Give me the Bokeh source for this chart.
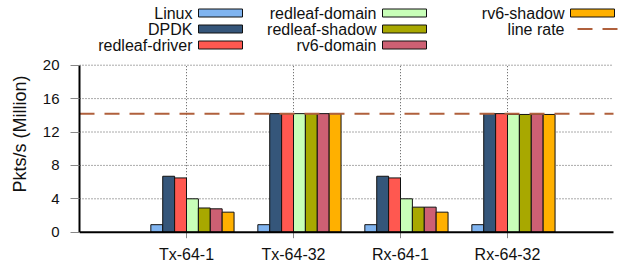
from bokeh.plotting import figure
from bokeh.models import Range1d, FixedTicker
from bokeh.embed import file_html
from bokeh.resources import INLINE
from bokeh.core.properties import value

# ---------------- data ----------------
categories = ["Tx-64-1", "Tx-64-32", "Rx-64-1", "Rx-64-32"]
series_names = ["Linux", "DPDK", "redleaf-driver", "redleaf-domain",
                "redleaf-shadow", "rv6-domain", "rv6-shadow"]
linux = [0.9, 0.9, 0.9, 0.9]
dpdk = [6.7, 14.2, 6.7, 14.2]
redleaf_driver = [6.5, 14.2, 6.5, 14.2]
redleaf_domain = [4.0, 14.2, 4.0, 14.1]
redleaf_shadow = [2.9, 14.2, 3.0, 14.1]
rv6_domain = [2.8, 14.2, 3.0, 14.15]
rv6_shadow = [2.4, 14.2, 2.4, 14.1]
line_rate = 14.2
line_rate_label = "line rate"
y_ticks = [0, 4, 8, 12, 16, 20]
y_label = "Pkts/s (Million)"

series_values = [linux, dpdk, redleaf_driver, redleaf_domain,
                 redleaf_shadow, rv6_domain, rv6_shadow]
colors = ["#80b4f0", "#35567a", "#ff5850", "#c8ffb8",
          "#a8a800", "#cd6073", "#ffb000"]
line_color = "#b0603c"
text_color = "#111111"
tick_color = "#888888"
grid_color = "#555555"

FONT = "Liberation Sans"
FS = "16px"

# ---------------- layout (page pixels; page has no margin) ----------------
W, H = 618, 267
BL = 79
frame_left_px = BL
frame_top_px = 0
frame_bottom_px = H
frame_right_px = 613                   # end of the x axis
frame_w = W - BL
zero_px = 231.7                        # page y of value 0
px_per_y = 167.0 / y_ticks[-1]
px_per_x = 107.0

x_lo = 0.0
x_hi = frame_w / px_per_x
y_lo = -(frame_bottom_px - zero_px) / px_per_y
y_hi = (zero_px - frame_top_px) / px_per_y
y_max = y_ticks[-1]


def dx(px):  # page px -> data x
    return x_lo + (px - frame_left_px) / px_per_x


def dy(py):  # page px -> data y
    return (zero_px - py) / px_per_y


x_end = dx(frame_right_px)

p = figure(width=W, height=H, output_backend="svg", toolbar_location=None,
           x_range=Range1d(x_lo, x_hi), y_range=Range1d(y_lo, y_hi),
           min_border_left=BL, min_border_right=0, min_border_top=0,
           min_border_bottom=0)
p.outline_line_color = None
p.background_fill_color = "white"
p.border_fill_color = "white"
p.xaxis.visible = False

# grid (manual, bounded to the plot box)
p.xgrid.grid_line_color = None
p.ygrid.grid_line_color = None
grid_y = [t for t in y_ticks if t > 0]
p.segment(x0=[x_lo] * len(grid_y), x1=[x_end] * len(grid_y), y0=grid_y, y1=grid_y,
          line_color=grid_color, line_width=1, line_dash="1 2")
gx = [i + 1 for i in range(len(categories))]
p.segment(x0=gx, x1=gx, y0=[0] * len(gx), y1=[y_max] * len(gx),
          line_color=grid_color, line_width=1, line_dash="1 2")

# bars
bw = 1.0 / 9
for i, (vals, col) in enumerate(zip(series_values, colors)):
    xs = [g + (i - 3) * bw + bw / 2 for g in gx]
    p.vbar(x=xs, top=vals, bottom=0, width=bw, fill_color=col,
           line_color=text_color, line_width=1)

# line rate
p.segment(x0=[x_lo], x1=[x_end], y0=[line_rate], y1=[line_rate],
          line_color=line_color, line_width=2, line_dash="15 10")

# x axis (drawn manually inside the frame)
p.segment(x0=gx, x1=gx, y0=[0] * len(gx), y1=[dy(zero_px + 6)] * len(gx),
          line_color=tick_color, line_width=1)
p.segment(x0=[x_lo], x1=[x_end], y0=[0], y1=[0], line_color="black", line_width=2)
p.text(x=gx, y=[dy(253.5)] * len(gx), text=categories,
       text_font=value(FONT), text_font_size=FS, text_color=text_color,
       text_align="center", text_baseline="middle")

# y axis
p.yaxis.bounds = (0, y_max)
p.yaxis.ticker = FixedTicker(ticks=y_ticks)
p.yaxis.minor_tick_line_color = None
p.yaxis.major_tick_out = 9
p.yaxis.major_tick_in = 0
p.yaxis.major_tick_line_color = tick_color
p.yaxis.major_label_standoff = 11
p.yaxis.axis_line_color = "black"
p.yaxis.axis_line_width = 2
p.yaxis.axis_label = y_label
p.yaxis.axis_label_text_font = FONT
p.yaxis.axis_label_text_font_size = "18px"
p.yaxis.axis_label_text_font_style = "normal"
p.yaxis.axis_label_text_color = text_color
p.yaxis.axis_label_standoff = 10
p.yaxis.major_label_text_font = FONT
p.yaxis.major_label_text_font_size = "15px"
p.yaxis.major_label_text_color = text_color

# legend (drawn manually: label on the left, sample on the right)
col_text_right = [192, 376, 564]
col_swatch_left = [198, 382, 570]
row_y = [12.5, 28.5, 44.5]
sw_w, sw_h = 44, 8
entries = list(zip(series_names, colors)) + [(line_rate_label, None)]
for k, (name, col) in enumerate(entries):
    c, r = k // 3, k % 3
    ty = dy(row_y[r])
    p.text(x=[dx(col_text_right[c])], y=[ty], text=[name],
           text_font=value(FONT), text_font_size=FS, text_color=text_color,
           text_align="right", text_baseline="middle")
    if col is not None:
        p.rect(x=[dx(col_swatch_left[c] + sw_w / 2)], y=[ty], width=sw_w, height=sw_h,
               width_units="screen", height_units="screen",
               fill_color=col, line_color=text_color, line_width=1)
    else:
        p.line(x=[dx(col_swatch_left[c] + 7), dx(col_swatch_left[c] + 47)], y=[ty, ty],
               line_color=line_color, line_width=2, line_dash="15 10")

open("out.html", "w").write(file_html(p, INLINE))
